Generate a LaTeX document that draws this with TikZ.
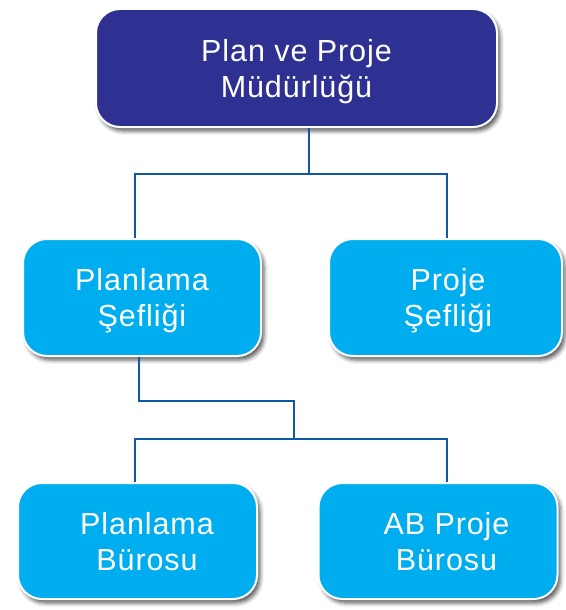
\documentclass[tikz,border=0pt]{standalone}
\usepackage{fontspec}
\setmainfont[LetterSpace=3]{Liberation Sans}
\usetikzlibrary{shadows.blur}
\definecolor{headBlue}{HTML}{2E3192}
\definecolor{unitBlue}{HTML}{00AEEF}
\definecolor{lineBlue}{HTML}{0E58A5}
\begin{document}
\begin{tikzpicture} [x=1pt,y=-1pt,
	headBox/.style={shape=rectangle,rounded corners=24pt,draw=white,line width=2pt,fill=headBlue,text=white,align=center,text depth=0pt,font=\fontsize{30.5}{36}\selectfont,blur shadow={shadow xshift=3pt,shadow yshift=-4pt,shadow blur radius=4pt,shadow opacity=65}},
	unitBox/.style={headBox,fill=unitBlue},
	link/.style={draw=lineBlue,line width=2.5pt}]
	\useasboundingbox (0,0) rectangle (565,610);
	\node (headNode) at (296.5,68)[headBox,minimum width=401pt,minimum height=118pt] {Plan ve Proje\\Müdürlüğü};
	\node (planSefNode) at (142,297.5)[unitBox,minimum width=238pt,minimum height=117pt] {Planlama\\Şefliği};
	\node (projeSefNode) at (445.5,297.5)[unitBox,minimum width=233pt,minimum height=117pt] {\hspace*{5pt}Proje\\\hspace*{5pt}Şefliği};
	\node (planBuroNode) at (137.5,541)[unitBox,minimum width=239pt,minimum height=116pt] {\hspace*{19pt}Planlama\\\hspace*{19pt}Bürosu};
	\node (projeBuroNode) at (438,541)[unitBox,minimum width=239pt,minimum height=116pt] {\hspace*{17pt}AB Proje\\\hspace*{17pt}Bürosu};

	\coordinate (topJoin) at (309,174);
	\coordinate (topLeft) at (135,174);
	\coordinate (topRight) at (447,174);
	\coordinate (midBend) at (139,401);
	\coordinate (midJoin) at (294,439);
	\coordinate (lowLeft) at (135,439);
	\coordinate (lowRight) at (447,439);

	\draw[link] (headNode.south -| topJoin) -- (topJoin);
	\draw[link] (planSefNode.north -| topLeft) -- (topLeft) -- (topRight) -- (projeSefNode.north -| topRight);
	\draw[link] (planSefNode.south -| midBend) -- (midBend) -| (midJoin);
	\draw[link] (planBuroNode.north -| lowLeft) -- (lowLeft) -- (lowRight) -- (projeBuroNode.north -| lowRight);
\end{tikzpicture}
\end{document}
